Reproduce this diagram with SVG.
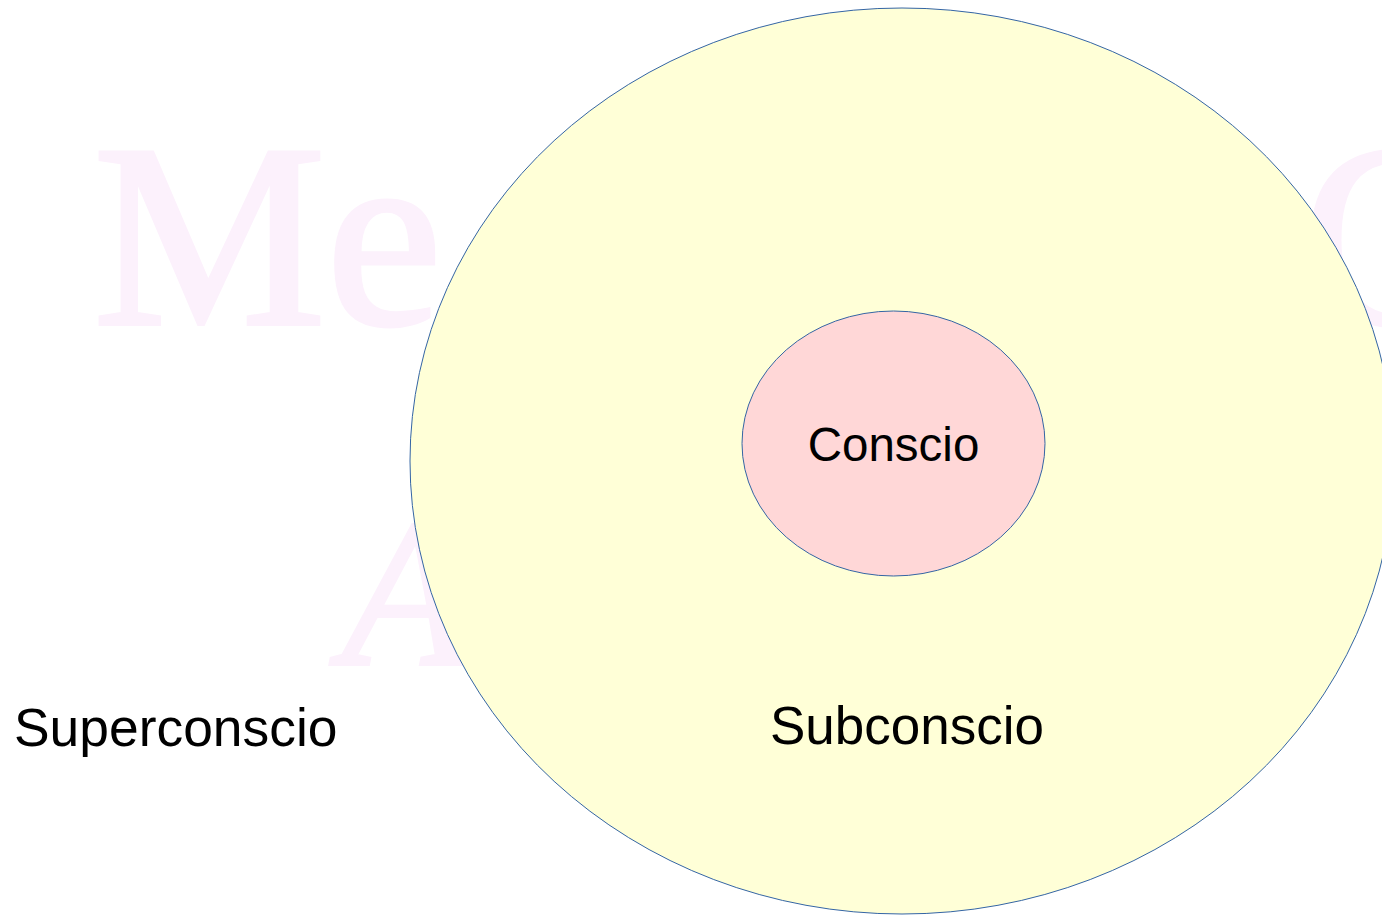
<svg xmlns="http://www.w3.org/2000/svg" width="1382" height="916" viewBox="0 0 1382 916">
<style>
.wm{font-family:"Liberation Serif",serif;fill:#fcf1fc;stroke:#fcf1fc;stroke-width:4}
.lbl{font-family:"Liberation Sans",Arial,sans-serif;fill:#000}
.shape{stroke:#3465a4;stroke-width:1}
</style>
<rect width="1382" height="916" fill="#ffffff"/>
<g id="watermark">
<text class="wm" x="93" y="324" font-size="262">Me</text>
<text class="wm" x="1302" y="324" font-size="262">C</text>
<text class="wm" x="342" y="664" font-size="210" font-style="italic">A</text>
</g>
<g id="subconscio">
<ellipse class="shape" cx="902" cy="461" rx="492" ry="453" fill="#ffffd7"/>
<text class="lbl" x="907" y="744" font-size="53" text-anchor="middle">Subconscio</text>
</g>
<g id="conscio">
<ellipse class="shape" cx="893.5" cy="443.5" rx="151.5" ry="132.5" fill="#ffd7d7"/>
<text class="lbl" x="893.5" y="461" font-size="47.5" text-anchor="middle">Conscio</text>
</g>
<g id="superconscio">
<text class="lbl" x="14" y="746" font-size="53.4">Superconscio</text>
</g>
<g id="connectors"></g>
</svg>
